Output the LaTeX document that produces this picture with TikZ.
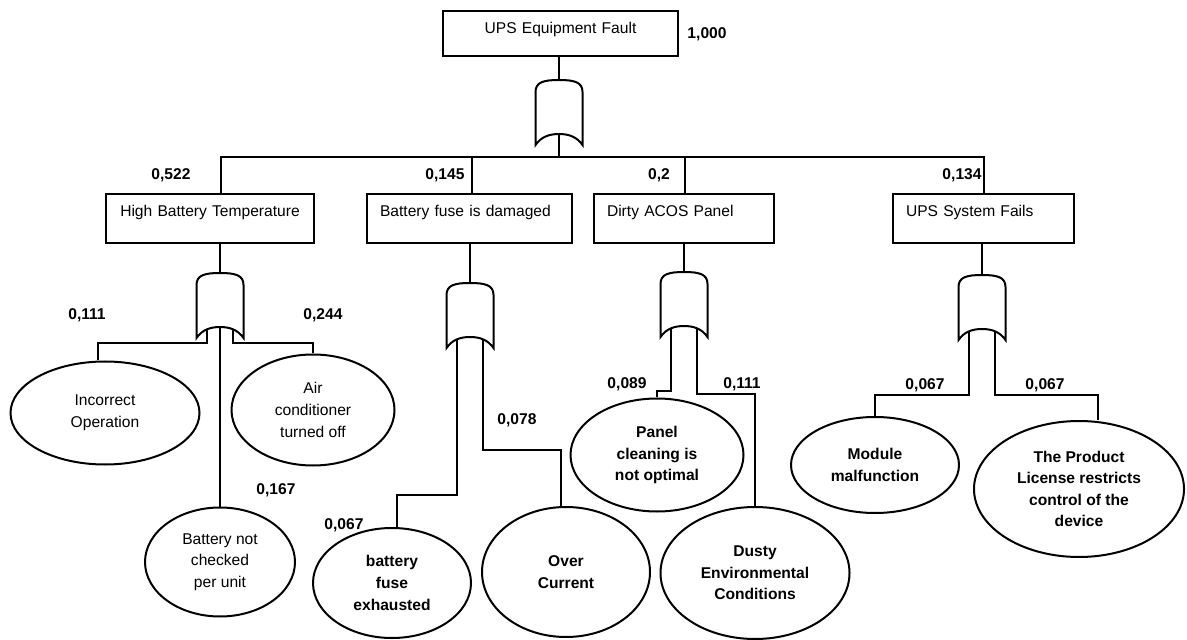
\documentclass[tikz,border=0pt]{standalone}
\usepackage{fontspec}
\setmainfont{Liberation Sans}
\usetikzlibrary{shapes.geometric}

\begin{document}
\begin{tikzpicture}[x=0.5pt, y=-0.5pt,
    font=\fontsize{7.8}{10.8}\selectfont,
    event/.style={draw, line width=1pt, rectangle, anchor=north west, inner xsep=6.5pt, inner ysep=5.5pt,
      text height=5.6pt, text depth=7.9pt, align=left},
    basic/.style={draw, line width=1pt, ellipse, inner sep=0pt, align=center},
    bbasic/.style={basic, font=\fontsize{7.8}{10.8}\selectfont\bfseries},
    prob/.style={font=\fontsize{7.8}{10.8}\selectfont\bfseries, inner sep=0pt},
    wire/.style={line width=0.6pt},
    orgate/.pic={
      \draw[line width=1pt, fill=white] (-23.5,65) -- (-23.5,12) .. controls (-23.5,2) and (-15,0) .. (0,0)
        .. controls (15,0) and (23.5,2) .. (23.5,12) -- (23.5,65)
        .. controls (18,57) and (10,54) .. (0,54) .. controls (-10,54) and (-18,57) .. (-23.5,65) -- cycle;
      \coordinate (-top) at (0,0);
      \coordinate (-m) at (0,54);
      \coordinate (-l) at (-13,57);
      \coordinate (-r) at (13,57);
    }]
  \useasboundingbox (0,0) rectangle (1187,640);

  % Top event and its gate
  \node[event, align=center, text depth=5.9pt, text width=104.5pt] (top) at (442,10) {UPS Equipment Fault};
  \node[prob] (ptop) at (707,34) {1,000};
  \pic (topg) at (559,80) {orgate};
  \coordinate (bus) at (559,157);

  % Intermediate events
  \node[event, align=center, text width=91pt] (hbt) at (105,193) {High Battery Temperature};
  \node[event, text width=89.5pt] (bf) at (366,193) {Battery fuse is damaged};
  \node[event, text width=77pt] (dirty) at (593,193) {Dirty ACOS Panel};
  \node[event, text width=77.5pt] (ups) at (892,193) {UPS System Fails};

  \node[prob] (p1) at (171,175) {0,522};
  \node[prob] (p2) at (445,175) {0,145};
  \node[prob] (p3) at (659,175) {0,2};
  \node[prob] (p4) at (962,175) {0,134};

  \draw[wire] (top.south -| topg-top) -- (topg-top);
  \draw[wire] (topg-m) -- (bus);
  \draw[wire] ([xshift=5.5pt]hbt.north) |- (bus) -| ([xshift=0.25pt]ups.north);
  \draw[wire] ([xshift=1.25pt]bf.north) -- ([xshift=1.25pt]bf.north |- bus);
  \draw[wire] ([xshift=0.5pt]dirty.north) -- ([xshift=0.5pt]dirty.north |- bus);

  % Gates under the intermediate events
  \pic (hbtg) at (220,273) {orgate};
  \pic (bfg) at (470,283) {orgate};
  \pic (dirtyg) at (684,272) {orgate};
  \pic (upsg) at (982,275) {orgate};

  \draw[wire] (hbtg-top |- hbt.south) -- (hbtg-top);
  \draw[wire] (bfg-top |- bf.south) -- (bfg-top);
  \draw[wire] (dirtyg-top |- dirty.south) -- (dirtyg-top);
  \draw[wire] (upsg-top |- ups.south) -- (upsg-top);

  % Basic events
  \node[basic, minimum width=94.5pt, minimum height=51.5pt] (incorrect) at (105,413) {Incorrect\\Operation};
  \node[basic, minimum width=81.5pt, minimum height=55.5pt] (aircon) at (313,410) {Air\\conditioner\\turned off};
  \node[basic, minimum width=75pt, minimum height=54.5pt] (notchecked) at (220,562) {Battery not\\checked\\per unit};
  \node[bbasic, minimum width=79pt, minimum height=55pt] (fuse) at (392,583) {battery\\fuse\\exhausted};
  \node[bbasic, minimum width=84pt, minimum height=65pt] (over) at (566,572) {Over\\Current};
  \node[bbasic, minimum width=86.5pt, minimum height=56.5pt] (panel) at (657,455) {Panel\\cleaning is\\not optimal};
  \node[bbasic, minimum width=94.5pt, minimum height=66pt] (dusty) at (755,573) {Dusty\\Environmental\\Conditions};
  \node[bbasic, minimum width=84pt, minimum height=48pt] (module) at (875,465) {Module\\malfunction};
  \node[bbasic, minimum width=105pt, minimum height=68pt] (license) at (1079,489) {The Product\\License restricts\\control of the\\device};

  \node[prob] (q1) at (87,315) {0,111};
  \node[prob] (q2) at (323,315) {0,244};
  \node[prob] (q3) at (276,490) {0,167};
  \node[prob] (q4) at (517,420) {0,078};
  \node[prob] (q5) at (344,525) {0,067};
  \node[prob] (q6) at (627,384) {0,089};
  \node[prob] (q7) at (742,384) {0,111};
  \node[prob] (q8) at (925,385) {0,067};
  \node[prob] (q9) at (1045,385) {0,067};

  % Wires from the gates down to the basic events
  \draw[wire] (hbtg-l) -- ++(0,13) -| ([xshift=-3.5pt]incorrect.north);
  \draw[wire] (hbtg-m) -- (notchecked.north);
  \draw[wire] (hbtg-r) -- ++(0,13) -| (aircon.north);

  \draw[wire] (bfg-l) -- ++(0,155) -| ([xshift=2.5pt]fuse.north);
  \draw[wire] (bfg-r) -- ++(0,110) -| ([xshift=-2.5pt]over.north);

  \draw[wire] (dirtyg-l) -- ++(0,62) -| (panel.north);
  \draw[wire] (dirtyg-r) -- ++(0,65) -| (dusty.north);

  \draw[wire] (upsg-l) -- ++(0,63) -| (module.north);
  \draw[wire] (upsg-r) -- ++(0,63) -| ([xshift=9.5pt]license.north);
\end{tikzpicture}
\end{document}
